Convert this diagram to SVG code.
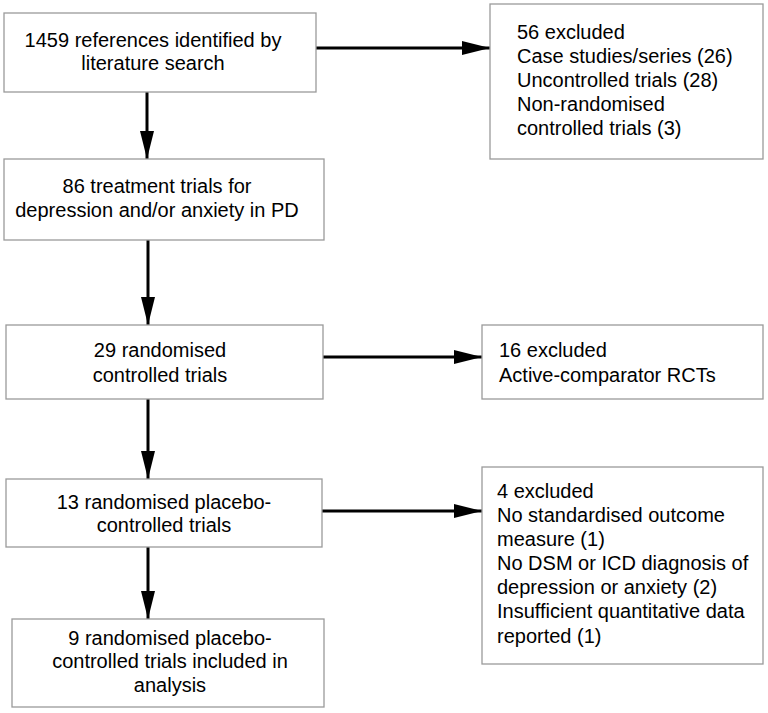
<svg xmlns="http://www.w3.org/2000/svg" width="768" height="713" viewBox="0 0 768 713">
<style>
.box{fill:#fff;stroke:#9a9a9a;stroke-width:1.3}
text{font-family:"Liberation Sans",Arial,sans-serif;font-size:20px;fill:#000}
.c{text-anchor:middle}
.ln{stroke:#000;stroke-width:3;fill:none}
</style>
<defs>
<marker id="ah" markerWidth="28" markerHeight="14" refX="28" refY="7" orient="auto" markerUnits="userSpaceOnUse">
<path d="M0,0 L28,7 L0,14 Z" fill="#000"/>
</marker>
</defs>
<rect width="768" height="713" fill="#fff"/>
<g id="connectors">
<line class="ln" x1="316" y1="48" x2="490" y2="48" marker-end="url(#ah)"/>
<line class="ln" x1="147" y1="92" x2="147" y2="159" marker-end="url(#ah)"/>
<line class="ln" x1="148" y1="240" x2="148" y2="325" marker-end="url(#ah)"/>
<line class="ln" x1="323" y1="357" x2="482" y2="357" marker-end="url(#ah)"/>
<line class="ln" x1="148" y1="399" x2="148" y2="479" marker-end="url(#ah)"/>
<line class="ln" x1="322" y1="511" x2="482" y2="511" marker-end="url(#ah)"/>
<line class="ln" x1="148" y1="547" x2="148" y2="619" marker-end="url(#ah)"/>
</g>
<g id="n1">
<rect class="box" x="4" y="13" width="312" height="79"/>
<text class="c" x="153" y="47">1459 references identified by</text>
<text class="c" x="153" y="70">literature search</text>
</g>
<g id="n2">
<rect class="box" x="4" y="159" width="320" height="81"/>
<text class="c" x="157" y="193">86 treatment trials for</text>
<text class="c" x="157" y="217">depression and/or anxiety in PD</text>
</g>
<g id="n3">
<rect class="box" x="6" y="325" width="317" height="74"/>
<text class="c" x="160" y="357">29 randomised</text>
<text class="c" x="160" y="382">controlled trials</text>
</g>
<g id="n4">
<rect class="box" x="6" y="479" width="316" height="68"/>
<text class="c" x="164" y="509">13 randomised placebo-</text>
<text class="c" x="164" y="532">controlled trials</text>
</g>
<g id="n5">
<rect class="box" x="12" y="619" width="312" height="88"/>
<text class="c" x="170" y="645">9 randomised placebo-</text>
<text class="c" x="170" y="668">controlled trials included in</text>
<text class="c" x="170" y="692">analysis</text>
</g>
<g id="e1">
<rect class="box" x="490" y="4" width="273" height="155"/>
<text x="517" y="39">56 excluded</text>
<text x="517" y="63">Case studies/series (26)</text>
<text x="517" y="87">Uncontrolled trials (28)</text>
<text x="517" y="111">Non-randomised</text>
<text x="517" y="135">controlled trials (3)</text>
</g>
<g id="e2">
<rect class="box" x="482" y="325" width="281" height="74"/>
<text x="499" y="357">16 excluded</text>
<text x="499" y="382">Active-comparator RCTs</text>
</g>
<g id="e3">
<rect class="box" x="482" y="467" width="281" height="197"/>
<text x="497" y="498">4 excluded</text>
<text x="497" y="522">No standardised outcome</text>
<text x="497" y="546">measure (1)</text>
<text x="497" y="570">No DSM or ICD diagnosis of</text>
<text x="497" y="594">depression or anxiety (2)</text>
<text x="497" y="618">Insufficient quantitative data</text>
<text x="497" y="643">reported (1)</text>
</g>
</svg>
